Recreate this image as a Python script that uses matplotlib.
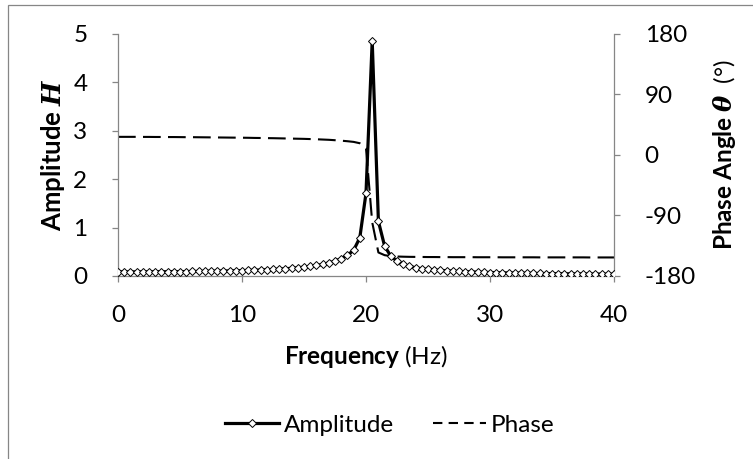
import matplotlib
matplotlib.use("Agg")
import matplotlib.pyplot as plt
from matplotlib.patches import Rectangle
from matplotlib.lines import Line2D

# ---- data ----
freq = [i * 0.5 for i in range(81)]  # 0 .. 40 Hz in 0.5 Hz steps
amplitude = [
    0.085, 0.085, 0.085, 0.085, 0.086, 0.086, 0.087, 0.088, 0.088, 0.089,
    0.090, 0.091, 0.093, 0.095, 0.096, 0.098, 0.100, 0.103, 0.105, 0.108,
    0.111, 0.115, 0.119, 0.124, 0.129, 0.135, 0.142, 0.150, 0.159, 0.170,
    0.183, 0.199, 0.217, 0.240, 0.270, 0.305, 0.360, 0.430, 0.530, 0.790,
    1.710, 4.860, 1.130, 0.620, 0.410, 0.310, 0.240, 0.200, 0.170, 0.150,
    0.135, 0.125, 0.115, 0.108, 0.100, 0.094, 0.089, 0.084, 0.080, 0.076,
    0.072, 0.069, 0.066, 0.063, 0.061, 0.058, 0.056, 0.054, 0.052, 0.050,
    0.049, 0.047, 0.046, 0.044, 0.043, 0.042, 0.041, 0.040, 0.039, 0.038,
    0.037,
]
phase = [
    27.0, 27.0, 27.0, 27.0, 26.9, 26.9, 26.8, 26.8, 26.7, 26.7,
    26.6, 26.5, 26.5, 26.4, 26.3, 26.2, 26.1, 26.0, 25.9, 25.8,
    25.7, 25.6, 25.4, 25.3, 25.1, 25.0, 24.8, 24.6, 24.4, 24.2,
    24.0, 23.7, 23.4, 23.0, 22.6, 22.0, 21.3, 20.5, 19.5, 17.5,
    10.0, -100.0, -145.0, -149.0, -150.5, -151.0, -151.3, -151.5, -151.6, -151.7,
    -151.8, -151.8, -151.9, -151.9, -152.0, -152.0, -152.0, -152.0, -152.1, -152.1,
    -152.1, -152.1, -152.2, -152.2, -152.2, -152.2, -152.2, -152.2, -152.3, -152.3,
    -152.3, -152.3, -152.3, -152.3, -152.3, -152.3, -152.4, -152.4, -152.4, -152.4,
    -152.4,
]
x_ticks = [0, 10, 20, 30, 40]
amp_ticks = [0, 1, 2, 3, 4, 5]
phase_ticks = [-180, -90, 0, 90, 180]

# ---- style ----
FONT = "Lato"
plt.rcParams["font.family"] = [FONT, "DejaVu Sans"]
plt.rcParams["mathtext.fontset"] = "custom"
plt.rcParams["mathtext.it"] = "DejaVu Serif:italic:bold"
plt.rcParams["mathtext.rm"] = FONT
plt.rcParams["axes.unicode_minus"] = False
GRAY = "#868686"
TXT = "#000000"
TS = 17.5

fig = plt.figure(figsize=(7.53, 4.59), dpi=100)
ax = fig.add_axes([118 / 753, 1 - 276 / 459, (614 - 118) / 753, (276 - 34) / 459])
ax2 = ax.twinx()

# chart-area border
fig.patches.append(Rectangle((8 / 753, -0.01), 1.0, 1 - 5 / 459 + 0.01,
                             transform=fig.transFigure, fill=False,
                             edgecolor=GRAY, linewidth=0.9))

l1, = ax.plot(freq, amplitude, color="black", lw=2.3, marker="D", ms=4.2,
              mfc="white", mec="black", mew=0.7, zorder=3, label="Amplitude")
ax2.plot(freq, phase, color="black", lw=1.5, dashes=(8.5, 3.5), zorder=2)

ax.set_zorder(ax2.get_zorder() + 1)
ax.patch.set_visible(False)

ax.set_xlim(0, 40)
ax.set_ylim(0, 5)
ax2.set_ylim(-180, 180)
ax.set_xticks(x_ticks)
ax.set_yticks(amp_ticks)
ax2.set_yticks(phase_ticks)

for a in (ax, ax2):
    a.spines["top"].set_visible(False)
    for s in a.spines.values():
        s.set_color(GRAY)
        s.set_linewidth(0.9)
ax.spines["right"].set_visible(False)
ax2.spines["left"].set_visible(False)
ax2.spines["bottom"].set_visible(False)

ax.tick_params(axis="x", direction="out", length=4, width=0.9, color=GRAY,
               labelsize=TS, labelcolor=TXT, pad=17)
ax.tick_params(axis="y", direction="out", length=4, width=0.9, color=GRAY,
               labelsize=TS, labelcolor=TXT, pad=18)
ax2.tick_params(axis="y", direction="out", length=4, width=0.9, color=GRAY,
                labelsize=TS, labelcolor=TXT, pad=18)

ax.set_xlabel(r"Frequency $\mathrm{(Hz)}$", fontsize=TS, fontweight="bold", color=TXT)
ax.set_ylabel(r"Amplitude $H$", fontsize=18.5, fontweight="bold", color=TXT)
ax2.set_ylabel(r"Phase Angle $\theta$  $\mathrm{(°)}$", fontsize=TS,
               fontweight="bold", color=TXT)
ax.xaxis.set_label_coords(0.5, (276 - 356) / 242)
ax.xaxis.label.set_va("center")
ax.yaxis.set_label_coords((53 - 118) / 496, 0.5)
ax.yaxis.label.set_va("center")
ax2.yaxis.set_label_coords((724 - 118) / 496, 0.5)
ax2.yaxis.label.set_va("center")

leg_phase = Line2D([], [], color="black", lw=1.5, dashes=(4.5, 3.0), label="Phase")
fig.legend(handles=[l1, leg_phase], loc="center",
           bbox_to_anchor=(390 / 753, 1 - 425 / 459),
           ncol=2, frameon=False, fontsize=TS, handlelength=2.2, handletextpad=0.2,
           columnspacing=1.6)

fig.savefig("out.png", dpi=100)
